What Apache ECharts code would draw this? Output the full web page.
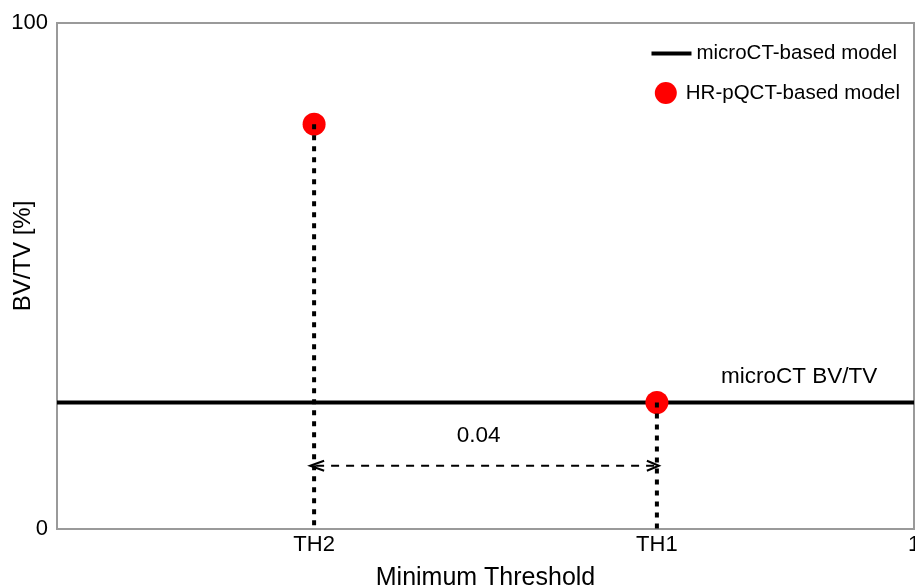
<!DOCTYPE html>
<html>
<head>
<meta charset="utf-8">
<script src="https://cdn.jsdelivr.net/npm/echarts@6/dist/echarts.min.js"></script>
<style>
html,body{margin:0;padding:0;background:#fff;}
#chart{width:915px;height:588px;}
</style>
</head>
<body>
<div id="chart"></div>
<script>
// ---- data ----
const xTickValues = [0.3, 0.7, 1];
const xTickLabels = ['TH2', 'TH1', '1'];
const xRange = [0, 1];
const yRange = [0, 100];
const microCTBVTV = 25;
const hrpqctThreshold = [0.3, 0.7];
const hrpqctBVTV = [80, 25];
const gapFrom = [0.3];
const gapTo = [0.7];
const gapLevel = [12.5];
const annotationX = [0.492, 0.866];
const annotationY = [18.4, 30.0];
const annotationText = ['0.04', 'microCT BV/TV'];

const FONT = 'Liberation Sans, Arial, sans-serif';
const chart = echarts.init(document.getElementById('chart'), null, {renderer: 'canvas'});

const dottedSeries = hrpqctThreshold.map((x, i) => ({
  type: 'line',
  z: 4,
  silent: true,
  symbol: 'none',
  data: [[x, hrpqctBVTV[i]], [x, yRange[0]]],
  lineStyle: {color: '#000', width: 4, type: [5, 6], cap: 'butt'}
}));

const option = {
  animation: false,
  backgroundColor: '#fff',
  grid: {left: 57, right: 1, top: 23, bottom: 59, containLabel: false, outerBoundsMode: 'none',
         show: true, borderColor: '#9a9a9a', borderWidth: 2, backgroundColor: 'transparent'},
  legend: [
    {
      data: [{name: 'microCT-based model', icon: 'rect'}],
      right: 13, top: 38, itemWidth: 40, itemHeight: 4,
      textStyle: {fontSize: 20.5, color: '#000', fontFamily: FONT},
      selectedMode: false
    },
    {
      data: [{name: 'HR-pQCT-based model', icon: 'circle'}],
      right: 10, top: 77, itemWidth: 30, itemHeight: 22,
      textStyle: {fontSize: 20.5, color: '#000', fontFamily: FONT},
      selectedMode: false
    }
  ],
  xAxis: {
    type: 'value', min: xRange[0], max: xRange[1], interval: 0.1,
    name: 'Minimum Threshold', nameLocation: 'middle', nameGap: 37, nameMoveOverlap: false,
    nameTextStyle: {fontSize: 25, color: '#000', fontFamily: FONT},
    axisLine: {show: true, lineStyle: {color: '#9a9a9a', width: 2}},
    axisTick: {show: false},
    splitLine: {show: false},
    axisLabel: {
      margin: 5, fontSize: 22, color: '#000', fontFamily: FONT,
      showMinLabel: true, showMaxLabel: true, hideOverlap: false,
      formatter: v => {
        const i = xTickValues.findIndex(t => Math.abs(t - v) < 1e-6);
        return i >= 0 ? xTickLabels[i] : '';
      }
    }
  },
  yAxis: {
    type: 'value', min: yRange[0], max: yRange[1], interval: 100,
    name: 'BV/TV [%]', nameLocation: 'middle', nameGap: 22, nameRotate: 90, nameMoveOverlap: false,
    nameTextStyle: {fontSize: 24, color: '#000', fontFamily: FONT, padding: [0, 0, 0, 40]},
    axisLine: {show: true, lineStyle: {color: '#9a9a9a', width: 2}},
    axisTick: {show: false},
    splitLine: {show: false},
    axisLabel: {margin: 9, fontSize: 22, color: '#000', fontFamily: FONT}
  },
  series: [
    {
      name: 'microCT-based model',
      type: 'line', z: 2, silent: true, symbol: 'none',
      color: '#000',
      data: [[xRange[0], microCTBVTV], [xRange[1], microCTBVTV]],
      lineStyle: {color: '#000', width: 4}
    },
    {
      name: 'HR-pQCT-based model',
      type: 'scatter', z: 3, silent: true,
      symbol: 'circle', symbolSize: 23,
      color: '#ff0000',
      itemStyle: {color: '#ff0000', opacity: 1},
      data: hrpqctThreshold.map((x, i) => [x, hrpqctBVTV[i]])
    },
    ...dottedSeries,
    {
      type: 'custom', z: 5, silent: true,
      data: gapFrom.map((x, i) => [x, gapTo[i], gapLevel[i]]),
      encode: {x: [0, 1], y: 2},
      renderItem: (params, api) => {
        const p1 = api.coord([api.value(0), api.value(2)]);
        const p2 = api.coord([api.value(1), api.value(2)]);
        const L = 10, H = 5;
        const st = {stroke: '#000', lineWidth: 2, fill: null};
        return {
          type: 'group',
          children: [
            {type: 'line', shape: {x1: p1[0] + 2, y1: p1[1], x2: p2[0] - 2, y2: p2[1]},
             style: {stroke: '#000', lineWidth: 2, lineDash: [8, 7]}},
            {type: 'polyline', shape: {points: [[p1[0] + L, p1[1] - H], [p1[0] - 4, p1[1]], [p1[0] + L, p1[1] + H]]}, style: st},
            {type: 'polyline', shape: {points: [[p2[0] - L, p2[1] - H], [p2[0] + 2, p2[1]], [p2[0] - L, p2[1] + H]]}, style: st}
          ]
        };
      }
    },
    {
      type: 'custom', z: 6, silent: true,
      data: annotationX.map((x, i) => [x, annotationY[i], annotationText[i]]),
      encode: {x: 0, y: 1},
      renderItem: (params, api) => {
        const p = api.coord([api.value(0), api.value(1)]);
        return {
          type: 'text',
          style: {
            x: p[0], y: p[1], text: annotationText[params.dataIndex],
            fill: '#000', font: '22.5px ' + FONT, align: 'center', verticalAlign: 'middle'
          }
        };
      }
    }
  ]
};
chart.setOption(option);
</script>
</body>
</html>
